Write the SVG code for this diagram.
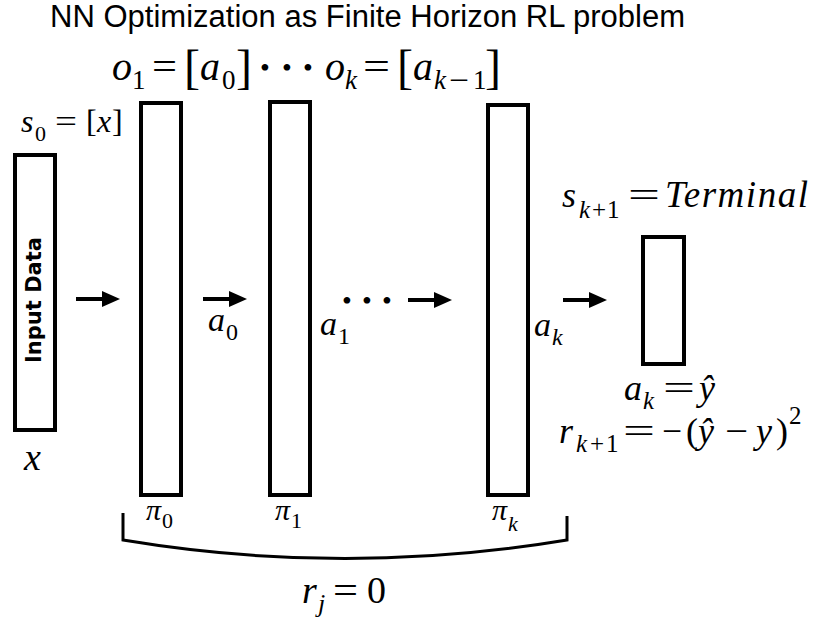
<svg xmlns="http://www.w3.org/2000/svg" width="815" height="620" viewBox="0 0 815 620">
<defs>
<style>
.box{fill:#fff;stroke:#000;stroke-width:4}
.m{font-family:'Liberation Serif','DejaVu Serif',serif;fill:#000}
.i{font-style:italic}
.t{font-family:'Liberation Sans',Arial,sans-serif;fill:#000}
.arr{stroke:#000;stroke-width:4;fill:none}
.dot{font-family:'Liberation Serif','DejaVu Serif',serif;font-size:28px;fill:#000}
</style>
<marker id="ah" markerUnits="userSpaceOnUse" markerWidth="19" markerHeight="16" refX="8" refY="8" orient="auto">
<path d="M0,0 L18,8 L0,16 Z" fill="#000"/>
</marker>
</defs>
<rect width="815" height="620" fill="#fff"/>

<text class="t" x="50" y="27" font-size="31" textLength="635" lengthAdjust="spacing">NN Optimization as Finite Horizon RL problem</text>

<g id="obs-formula" font-family="Liberation Serif">
<text class="m i" x="112" y="80" font-size="40">o</text>
<text class="m" x="132" y="89" font-size="27">1</text>
<text class="m" x="152" y="80" font-size="40" textLength="25" lengthAdjust="spacingAndGlyphs">=</text>
<text class="m" x="184" y="83" font-size="48">[</text>
<text class="m i" x="200" y="80" font-size="40">a</text>
<text class="m" x="222" y="89" font-size="27">0</text>
<text class="m" x="236" y="83" font-size="48">]</text>
<text class="dot" x="260 282 303" y="77">•••</text>
<text class="m i" x="325" y="80" font-size="40">o</text>
<text class="m i" x="345" y="89" font-size="27">k</text>
<text class="m" x="363" y="80" font-size="40" textLength="27" lengthAdjust="spacingAndGlyphs">=</text>
<text class="m" x="397" y="83" font-size="48">[</text>
<text class="m i" x="413" y="80" font-size="40">a</text>
<text class="m i" x="434" y="89" font-size="27">k</text>
<text class="m" x="449" y="89" font-size="27" textLength="20" lengthAdjust="spacingAndGlyphs">−</text>
<text class="m" x="473" y="89" font-size="27">1</text>
<text class="m" x="485" y="83" font-size="48">]</text>
</g>

<g id="s0-label">
<text class="m i" x="21" y="132" font-size="32">s</text>
<text class="m" x="35" y="141" font-size="22">0</text>
<text class="m" x="55" y="132" font-size="32" textLength="22" lengthAdjust="spacingAndGlyphs">=</text>
<text class="m" x="86" y="132" font-size="32">[</text>
<text class="m i" x="97" y="132" font-size="32">x</text>
<text class="m" x="112" y="132" font-size="32">]</text>
</g>

<g id="input">
<rect class="box" x="15" y="155" width="40" height="275"/>
<text x="41" y="300" transform="rotate(-90 41 300)" text-anchor="middle" font-family="'DejaVu Sans',Verdana,sans-serif" font-weight="bold" font-size="21">Input Data</text>
</g>
<text class="m i" x="24" y="470" font-size="38">x</text>

<g id="pi0">
<rect class="box" x="141" y="103" width="40" height="392"/>
<text class="m i" x="146" y="520" font-size="30">π</text>
<text class="m" x="162" y="528" font-size="22">0</text>
</g>
<g id="pi1">
<rect class="box" x="270" y="102" width="40" height="393"/>
<text class="m i" x="275" y="520" font-size="30">π</text>
<text class="m" x="291" y="528" font-size="22">1</text>
</g>
<g id="pik">
<rect class="box" x="488" y="105" width="40" height="390"/>
<text class="m i" x="492" y="520" font-size="30">π</text>
<text class="m i" x="508" y="531" font-size="22">k</text>
</g>
<g id="terminal">
<rect class="box" x="643" y="237" width="41" height="127"/>
<text class="m i" x="562" y="207" font-size="36">s</text>
<text class="m i" x="579" y="218" font-size="25">k</text>
<text class="m" x="592" y="218" font-size="25">+</text>
<text class="m" x="607" y="218" font-size="25">1</text>
<text class="m" x="628" y="207" font-size="36" textLength="32" lengthAdjust="spacingAndGlyphs">=</text>
<text class="m i" x="665" y="207" font-size="37" textLength="143" lengthAdjust="spacing">Terminal</text>
</g>

<g id="connectors">
<line class="arr" x1="76" y1="299" x2="110" y2="299" marker-end="url(#ah)"/>
<line class="arr" x1="203" y1="299" x2="237" y2="299" marker-end="url(#ah)"/>
<line class="arr" x1="408" y1="300" x2="442" y2="300" marker-end="url(#ah)"/>
<line class="arr" x1="563" y1="300" x2="597" y2="300" marker-end="url(#ah)"/>
<path d="M123,513 V540 Q345,577 567,540 V516" fill="none" stroke="#000" stroke-width="3"/>
</g>

<g id="action-labels">
<text class="m i" x="208" y="331" font-size="34">a</text>
<text class="m" x="226" y="340" font-size="24">0</text>
<text class="m i" x="320" y="335" font-size="34">a</text>
<text class="m" x="338" y="344" font-size="24">1</text>
<text class="dot" x="342 362 382" y="310">•••</text>
<text class="m i" x="534" y="336" font-size="34">a</text>
<text class="m i" x="552" y="345" font-size="24">k</text>
</g>

<g id="output-labels">
<text class="m i" x="624" y="400" font-size="36">a</text>
<text class="m i" x="643" y="409" font-size="25">k</text>
<text class="m" x="663" y="400" font-size="36" textLength="32" lengthAdjust="spacingAndGlyphs">=</text>
<text class="m i" x="699" y="400" font-size="36">ŷ</text>
<text class="m i" x="559" y="443" font-size="36">r</text>
<text class="m i" x="576" y="452" font-size="25">k</text>
<text class="m" x="590" y="452" font-size="25">+</text>
<text class="m" x="606" y="452" font-size="25">1</text>
<text class="m" x="623" y="443" font-size="36" textLength="32" lengthAdjust="spacingAndGlyphs">=</text>
<text class="m" x="662" y="443" font-size="36" textLength="20" lengthAdjust="spacingAndGlyphs">−</text>
<text class="m" x="686" y="443" font-size="36">(</text>
<text class="m i" x="698" y="443" font-size="36">ŷ</text>
<text class="m" x="725" y="443" font-size="36" textLength="23" lengthAdjust="spacingAndGlyphs">−</text>
<text class="m i" x="756" y="443" font-size="36">y</text>
<text class="m" x="776" y="443" font-size="36">)</text>
<text class="m" x="789" y="424" font-size="25">2</text>
</g>

<g id="reward-label">
<text class="m i" x="302" y="603" font-size="38">r</text>
<text class="m i" x="318" y="612" font-size="26">j</text>
<text class="m" x="333" y="603" font-size="38" textLength="25" lengthAdjust="spacingAndGlyphs">=</text>
<text class="m" x="367" y="603" font-size="38">0</text>
</g>
</svg>
